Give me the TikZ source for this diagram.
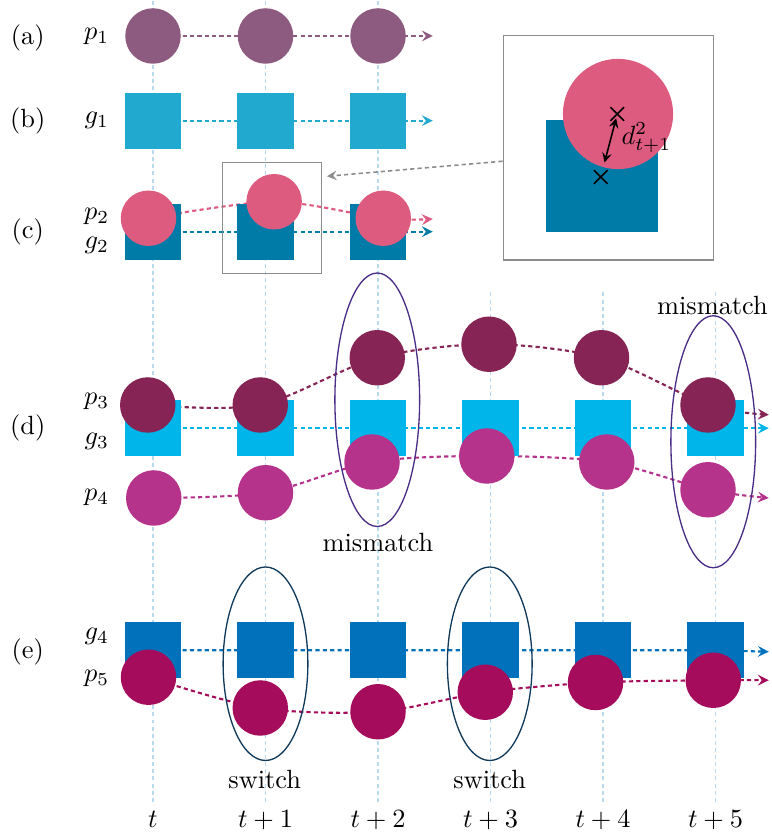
\documentclass[tikz,border=0pt]{standalone}
\usepackage{amsmath,amssymb}
\usetikzlibrary{backgrounds,shapes.misc,shapes.geometric}

\definecolor{pone}{RGB}{142,91,128}
\definecolor{gone}{RGB}{34,169,208}
\definecolor{ptwo}{RGB}{222,91,128}
\definecolor{gtwo}{RGB}{0,123,167}
\definecolor{pthree}{RGB}{134,36,86}
\definecolor{gthree}{RGB}{0,181,233}
\definecolor{pfour}{RGB}{181,51,138}
\definecolor{gfour}{RGB}{0,113,186}
\definecolor{pfive}{RGB}{165,12,92}
\definecolor{ringd}{RGB}{74,45,133}
\definecolor{ringe}{RGB}{16,58,92}
\definecolor{timeline}{RGB}{184,218,240}
\definecolor{boxgray}{RGB}{140,140,140}

\begin{document}
\begin{tikzpicture}[
    obj/.style={circle,inner sep=0pt,minimum size=0.74cm},
    gtbox/.style={rectangle,inner sep=0pt,minimum size=0.75cm},
    traj/.style={line width=0.8pt,dash pattern=on 1.6pt off 1.2pt,->,>=stealth},
    tline/.style={timeline,line width=0.5pt,dash pattern=on 1.5pt off 1.2pt},
    ring/.style={ellipse,draw,line width=0.5pt,inner sep=0pt,minimum width=1.13cm},
    frame/.style={draw=boxgray,line width=0.5pt,inner sep=0pt}
  ]
    \useasboundingbox (-2.04,0) rectangle (8.24,11.12);

    % time axis
    \node[anchor=base] (t0) at (0,0.08) {$t$};
    \node[anchor=base] (t1) at (1.5,0.08) {$t+1$};
    \node[anchor=base] (t2) at (3,0.08) {$t+2$};
    \node[anchor=base] (t3) at (4.5,0.08) {$t+3$};
    \node[anchor=base] (t4) at (6,0.08) {$t+4$};
    \node[anchor=base] (t5) at (7.5,0.08) {$t+5$};

    % row labels
    \node (lab-a) at (-1.67,10.62) {(a)};
    \node (lab-b) at (-1.67,9.51) {(b)};
    \node (lab-c) at (-1.67,8.03) {(c)};
    \node (lab-d) at (-1.67,5.41) {(d)};
    \node (lab-e) at (-1.67,2.43) {(e)};
    \node (lab-p1) at (-0.75,10.64) {$p_1$};
    \node (lab-g1) at (-0.75,9.52) {$g_1$};
    \node (lab-p2) at (-0.75,8.23) {$p_2$};
    \node (lab-g2) at (-0.75,7.85) {$g_2$};
    \node (lab-p3) at (-0.75,5.77) {$p_3$};
    \node (lab-g3) at (-0.75,5.23) {$g_3$};
    \node (lab-p4) at (-0.75,4.49) {$p_4$};
    \node (lab-g4) at (-0.75,2.64) {$g_4$};
    \node (lab-p5) at (-0.75,2.08) {$p_5$};

    % (a)
    \node[obj,fill=pone] (p1a) at (0,10.64) {};
    \node[obj,fill=pone] (p1b) at (1.5,10.64) {};
    \node[obj,fill=pone] (p1c) at (3,10.64) {};
    \coordinate (p1end) at (3.73,10.64);

    % (b)
    \node[gtbox,fill=gone] (g1a) at (0,9.51) {};
    \node[gtbox,fill=gone] (g1b) at (1.5,9.51) {};
    \node[gtbox,fill=gone] (g1c) at (3,9.51) {};
    \coordinate (g1end) at (3.73,9.51);

    % (c)
    \node[gtbox,fill=gtwo] (g2a) at (0,8.03) {};
    \node[gtbox,fill=gtwo] (g2b) at (1.5,8.03) {};
    \node[gtbox,fill=gtwo] (g2c) at (3,8.03) {};
    \coordinate (g2end) at (3.73,8.03);
    \node[obj,fill=ptwo] (p2a) at (-0.06,8.21) {};
    \node[obj,fill=ptwo] (p2b) at (1.615,8.43) {};
    \node[obj,fill=ptwo] (p2c) at (3.07,8.21) {};
    \coordinate (p2end) at (3.73,8.2);
    \node[frame,minimum width=1.32cm,minimum height=1.48cm] (zoombox) at (1.59,8.21) {};

    % zoomed view
    \node[frame,minimum width=2.8cm,minimum height=2.99cm] (bigbox) at (6.07,9.15) {};
    \node[gtbox,fill=gtwo,minimum size=1.49cm] (biggt) at (5.99,8.77) {};
    \node[obj,fill=ptwo,minimum size=1.47cm] (bigp) at (6.2,9.6) {};
    \node[cross out,draw,line width=0.6pt,inner sep=0pt,minimum size=0.16cm] (xp) at (6.19,9.6) {};
    \node[cross out,draw,line width=0.6pt,inner sep=0pt,minimum size=0.16cm] (xg) at (5.97,8.76) {};
    \draw[<->,>=stealth,line width=0.6pt,shorten <=0.06cm,shorten >=0.2cm] (xp.center) -- (xg.center);
    \node[anchor=west,inner sep=0pt] (dist) at (6.24,9.28) {$d^2_{t+1}$};
    \coordinate (zoomtip) at (2.32,8.77);
    \draw[boxgray,line width=0.6pt,dash pattern=on 1.6pt off 1.2pt,->,>=stealth] ([yshift=-0.18cm]bigbox.west) -- (zoomtip);

    % (d)
    \node[gtbox,fill=gthree] (g3a) at (0,5.41) {};
    \node[gtbox,fill=gthree] (g3b) at (1.5,5.41) {};
    \node[gtbox,fill=gthree] (g3c) at (3,5.41) {};
    \node[gtbox,fill=gthree] (g3d) at (4.5,5.41) {};
    \node[gtbox,fill=gthree] (g3e) at (6,5.41) {};
    \node[gtbox,fill=gthree] (g3f) at (7.5,5.41) {};
    \coordinate (g3end) at (8.21,5.41);
    \node[obj,fill=pthree] (p3a) at (-0.07,5.72) {};
    \node[obj,fill=pthree] (p3b) at (1.43,5.72) {};
    \node[obj,fill=pthree] (p3c) at (2.99,6.35) {};
    \node[obj,fill=pthree] (p3d) at (4.48,6.53) {};
    \node[obj,fill=pthree] (p3e) at (5.98,6.35) {};
    \node[obj,fill=pthree] (p3f) at (7.4,5.72) {};
    \coordinate (p3end) at (8.21,5.59);
    \node[obj,fill=pfour] (p4a) at (0.01,4.48) {};
    \node[obj,fill=pfour] (p4b) at (1.5,4.55) {};
    \node[obj,fill=pfour] (p4c) at (2.92,4.96) {};
    \node[obj,fill=pfour] (p4d) at (4.45,5.04) {};
    \node[obj,fill=pfour] (p4e) at (6.05,4.96) {};
    \node[obj,fill=pfour] (p4f) at (7.4,4.59) {};
    \coordinate (p4end) at (8.21,4.48);
    \node[ring,draw=ringd,minimum height=3.38cm] (mis1) at (2.99,5.79) {};
    \node[ring,draw=ringd,minimum height=3.36cm] (mis2) at (7.47,5.23) {};
    \node (mislab1) at (3,3.89) {mismatch};
    \node (mislab2) at (7.46,7.05) {mismatch};

    % (e)
    \node[gtbox,fill=gfour] (g4a) at (0,2.45) {};
    \node[gtbox,fill=gfour] (g4b) at (1.5,2.45) {};
    \node[gtbox,fill=gfour] (g4c) at (3,2.45) {};
    \node[gtbox,fill=gfour] (g4d) at (4.5,2.45) {};
    \node[gtbox,fill=gfour] (g4e) at (6,2.45) {};
    \node[gtbox,fill=gfour] (g4f) at (7.5,2.45) {};
    \coordinate (g4end) at (8.21,2.43);
    \node[obj,fill=pfive] (p5a) at (-0.06,2.09) {};
    \node[obj,fill=pfive] (p5b) at (1.43,1.68) {};
    \node[obj,fill=pfive] (p5c) at (3,1.63) {};
    \node[obj,fill=pfive] (p5d) at (4.43,1.89) {};
    \node[obj,fill=pfive] (p5e) at (5.9,2.02) {};
    \node[obj,fill=pfive] (p5f) at (7.47,2.05) {};
    \coordinate (p5end) at (8.21,2.05);
    \node[ring,draw=ringe,minimum height=2.58cm] (sw1) at (1.5,2.27) {};
    \node[ring,draw=ringe,minimum height=2.58cm] (sw2) at (4.49,2.27) {};
    \node (swlab1) at (1.49,0.73) {switch};
    \node (swlab2) at (4.49,0.73) {switch};

    \begin{scope}[on background layer]
      \draw[tline] (0,0.43) -- (0,11.12);
      \draw[tline] (1.5,0.43) -- (1.5,11.12);
      \draw[tline] (3,0.43) -- (3,11.12);
      \draw[tline] (4.5,0.43) -- (4.5,7.25);
      \draw[tline] (6,0.43) -- (6,7.25);
      \draw[tline] (7.5,0.43) -- (7.5,7.25);

      \draw[traj,pone] (p1a.center) -- (p1b.center) -- (p1c.center) -- (p1end);
      \draw[traj,gone] (g1a.center) -- (g1b.center) -- (g1c.center) -- (g1end);
      \draw[traj,gtwo] (g2a.center) -- (g2b.center) -- (g2c.center) -- (g2end);
      \draw[traj,ptwo] plot[smooth] coordinates {(p2a.center) (p2b.center) (p2c.center) (p2end)};
      \draw[traj,gthree] (g3a.center) -- (g3f.center) -- (g3end);
      \draw[traj,pthree] plot[smooth] coordinates {(p3a.center) (p3b.center) (p3c.center) (p3d.center) (p3e.center) (p3f.center) (p3end)};
      \draw[traj,pfour] plot[smooth] coordinates {(p4a.center) (p4b.center) (p4c.center) (p4d.center) (p4e.center) (p4f.center) (p4end)};
      \draw[traj,gfour] (g4a.center) -- (g4f.center) -- (g4end);
      \draw[traj,pfive] plot[smooth] coordinates {(p5a.center) (p5b.center) (p5c.center) (p5d.center) (p5e.center) (p5f.center) (p5end)};
    \end{scope}
\end{tikzpicture}
\end{document}
